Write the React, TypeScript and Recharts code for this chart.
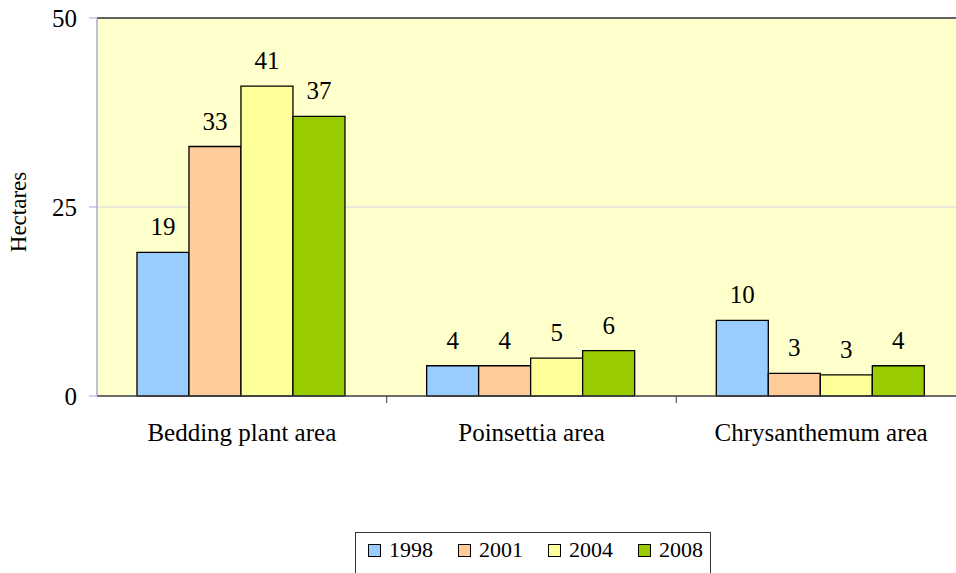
import { BarChart, Bar, XAxis, YAxis, CartesianGrid, ReferenceLine, LabelList } from 'recharts';

const categories = ['Bedding plant area', 'Poinsettia area', 'Chrysanthemum area'];
const years = ['1998', '2001', '2004', '2008'];
const values1998 = [19, 4, 10];
const values2001 = [33, 4, 3];
const values2004 = [41, 5, 2.8];
const values2008 = [37, 6, 4];
const yTicks = [0, 25, 50];

const colors = ['#99CCFF', '#FFCC99', '#FFFF99', '#99CC00'];
const seriesValues = [values1998, values2001, values2004, values2008];

const data = categories.map((name, i) => {
  const row: Record<string, string | number> = { name };
  years.forEach((y, j) => {
    row['y' + y] = seriesValues[j][i];
  });
  return row;
});

const FONT = 'Liberation Serif, Tinos, DejaVu Serif, serif';

function CategoryTick(props: any) {
  const { x, payload, index } = props;
  const half = payload && payload.offset ? payload.offset : 144.5;
  return (
    <g>
      {index > 0 && (
        <line x1={x - half} x2={x - half} y1={396} y2={403} stroke="#555" strokeWidth={1.2} />
      )}
      <text x={x} y={441} textAnchor="middle" style={{ fontSize: 25, fontFamily: FONT, fill: '#000' }}>
        {payload.value}
      </text>
    </g>
  );
}

function YTitle(props: any) {
  const vb = props.viewBox || { x: 0, y: 18, width: 97, height: 378 };
  const cx = vb.x + 18;
  const cy = vb.y + vb.height / 2 + 5;
  return (
    <text
      x={cx}
      y={cy}
      transform={`rotate(-90, ${cx}, ${cy})`}
      textAnchor="middle"
      dominantBaseline="central"
      style={{ fontSize: 23, fontFamily: FONT, fill: '#000' }}
    >
      Hectares
    </text>
  );
}

function LegendBox() {
  return (
    <div
      style={{
        position: 'absolute',
        left: 355,
        top: 532,
        width: 356,
        height: 50,
        border: '1px solid #333',
        boxSizing: 'border-box',
        fontFamily: FONT,
        fontSize: 22,
      }}
    >
      {years.map((y, j) => (
        <div key={y} style={{ position: 'absolute', left: 12 + j * 90, top: 4, display: 'flex', alignItems: 'center' }}>
          <span
            style={{
              display: 'inline-block',
              width: 11,
              height: 11,
              background: colors[j],
              border: '1.5px solid #000',
              marginRight: 8,
            }}
          />
          <span>{y}</span>
        </div>
      ))}
    </div>
  );
}

export default function App() {
  return (
    <div style={{ position: 'absolute', left: 0, top: 0, width: 956, height: 573, overflow: 'hidden', background: '#fff' }}>
      <BarChart
        width={966}
        height={573}
        data={data}
        margin={{ top: 18, right: 0, left: 0, bottom: 117 }}
        barCategoryGap="13.8%"
        barGap={0}
      >
        <CartesianGrid vertical={false} stroke="#D4D4EC" fill="#FFFFCC" />
        <XAxis
          dataKey="name"
          height={60}
          axisLine={{ stroke: '#444', strokeWidth: 1.5 }}
          tickLine={false}
          tick={<CategoryTick />}
          interval={0}
        />
        <YAxis
          width={97}
          domain={[0, 50]}
          ticks={yTicks}
          axisLine={{ stroke: '#A8A8D8', strokeWidth: 1.5 }}
          tickLine={{ stroke: '#A8A8D8' }}
          tickSize={8}
          tickMargin={12}
          tick={{ fontSize: 25, fontFamily: FONT, fill: '#000' }}
          label={<YTitle />}
        />
        <ReferenceLine y={50} stroke="#333" strokeWidth={1.5} />
        {years.map((y, j) => (
          <Bar key={y} dataKey={'y' + y} fill={colors[j]} stroke="#000" strokeWidth={1.3} isAnimationActive={false}>
            <LabelList
              dataKey={'y' + y}
              position="top"
              offset={17}
              formatter={(v: any) => Math.round(Number(v))}
              style={{ fontSize: 25, fontFamily: FONT, fill: '#000' }}
            />
          </Bar>
        ))}
      </BarChart>
      <LegendBox />
    </div>
  );
}
